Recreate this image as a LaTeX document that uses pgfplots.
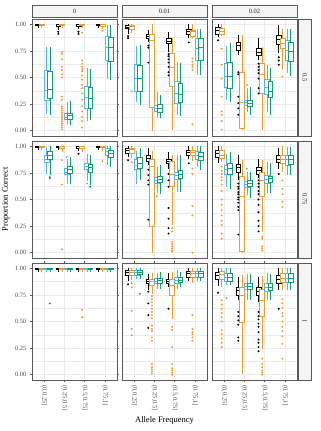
\documentclass[border=0pt]{standalone}
\usepackage{fontspec}
\setmainfont{Liberation Serif}
\usepackage{pgfplots}
\pgfplotsset{compat=1.18}
\usepgfplotslibrary{groupplots,statistics}
\definecolor{cO}{HTML}{E2A030}
\definecolor{cB}{HTML}{56B4E9}
\definecolor{cG}{HTML}{109E70}
\definecolor{gridc}{HTML}{EBEBEB}
\definecolor{frame}{HTML}{5A5A5A}
\definecolor{tl}{HTML}{4D4D4D}
\definecolor{stripc}{HTML}{F5F5F5}

\newcommand{\B}[8]{%
\if\relax\detokenize{#8}\relax
\addplot[#2,boxplot prepared={draw position=#1,lower whisker=#3,lower quartile=#4,median=#5,upper quartile=#6,upper whisker=#7}] coordinates {};
\else
\addplot[#2,boxplot prepared={draw position=#1,lower whisker=#3,lower quartile=#4,median=#5,upper quartile=#6,upper whisker=#7}] table[row sep=\\,y index=0] {v\\#8\\};
\fi}
\newcommand{\bK}[7]{\B{#1-0.3}{sK}{#2}{#3}{#4}{#5}{#6}{#7}}
\newcommand{\bO}[7]{\B{#1-0.12}{sO}{#2}{#3}{#4}{#5}{#6}{#7}}
\newcommand{\bB}[7]{\B{#1+0.12}{sB}{#2}{#3}{#4}{#5}{#6}{#7}}
\newcommand{\bG}[7]{\B{#1+0.28}{sG}{#2}{#3}{#4}{#5}{#6}{#7}}

\pgfplotsset{
 sK/.style={draw=black,fill=white,line width=0.6pt,mark=*,mark size=0.65pt,mark options={draw=none,fill=black}},
 sO/.style={draw=cO,fill=white,line width=0.6pt,mark=*,mark size=0.65pt,mark options={draw=none,fill=cO}},
 sB/.style={draw=cB,fill=white,line width=0.6pt,mark=*,mark size=0.65pt,mark options={draw=none,fill=cB}},
 sG/.style={draw=cG,fill=white,line width=0.6pt,mark=*,mark size=0.65pt,mark options={draw=none,fill=cG}},
}

\begin{document}
\begin{tikzpicture}
\begin{groupplot}[
 group style={group size=3 by 3, horizontal sep=5pt, vertical sep=5pt, group name=G,
   xticklabels at=edge bottom, yticklabels at=edge left},
 width=85pt, height=117pt, scale only axis,
 xmin=0.4, xmax=4.6, ymin=-0.05, ymax=1.05,
 xtick={1,2,3,4}, ytick={0,0.25,0.5,0.75,1},
 minor ytick={0.125,0.375,0.625,0.875},
 xticklabels={{(0,0.25]},{(0.25,0.5]},{(0.5,0.75]},{(0.75,1]}},
 xmajorgrids, ymajorgrids, yminorgrids,
 major grid style={gridc, line width=0.5pt},
 minor grid style={gridc, line width=0.3pt},
 axis line style={frame, line width=0.5pt},
 tick align=outside, major tick length=2pt,
 tick style={frame, line width=0.5pt},
 minor tick style={draw=none},
 /pgf/number format/assume math mode=true,
 yticklabel style={/pgf/number format/fixed, /pgf/number format/fixed zerofill, /pgf/number format/precision=2},
 ticklabel style={font=\fontsize{6.5}{7}\selectfont, text=tl},
 x tick label style={rotate=-90, anchor=west},
 boxplot/draw direction=y, boxplot/box extend=0.24, boxplot/whisker extend=0,
]
% ---------------- row 1 (0.5), col 1 (0)
\nextgroupplot[xtick style={draw=none}]
\bK{1}{0.97}{0.99}{1}{1}{1}{}
\bO{1}{0.97}{0.99}{1}{1}{1}{}
\bB{1}{0.16}{0.29}{0.38}{0.57}{0.79}{}
\bG{1}{0.15}{0.30}{0.39}{0.56}{0.79}{}
\bK{2}{0.95}{0.985}{1}{1}{1}{0.93\\0.91}
\bO{2}{0.97}{0.99}{1}{1}{1}{0.74\\0.72\\0.67\\0.60\\0.57\\0.53\\0.50\\0.32\\0.29\\0.23\\0.21\\0.19\\0.17\\0.15\\0.13\\0.11\\0.09\\0.07\\0.05\\0.03\\0.01}
\bB{2}{0.06}{0.11}{0.13}{0.16}{0.27}{}
\bG{2}{0.05}{0.11}{0.14}{0.16}{0.28}{}
\bK{3}{0.96}{0.985}{1}{1}{1}{0.93\\0.91}
\bO{3}{0.97}{0.99}{1}{1}{1}{0.92\\0.66\\0.63\\0.60\\0.58\\0.56\\0.52\\0.48\\0.43\\0.40\\0.35\\0.29\\0.23\\0.18\\0.13\\0.09\\0.03}
\bB{3}{0.09}{0.21}{0.31}{0.42}{0.59}{}
\bG{3}{0.10}{0.21}{0.30}{0.41}{0.58}{}
\bK{4}{0.97}{0.99}{1}{1}{1}{}
\bO{4}{0.96}{0.985}{1}{1}{1}{0.94}
\bB{4}{0.49}{0.66}{0.78}{0.89}{0.99}{}
\bG{4}{0.48}{0.65}{0.78}{0.88}{0.99}{}
% ---------------- row 1, col 2 (0.01)
\nextgroupplot[xtick style={draw=none}, ytick style={draw=none}]
\bK{1}{0.91}{0.96}{0.975}{0.99}{1}{0.89\\0.87}
\bO{1}{0.92}{0.95}{0.98}{0.99}{1}{0.37}
\bB{1}{0.27}{0.37}{0.49}{0.62}{0.80}{}
\bG{1}{0.24}{0.37}{0.49}{0.61}{0.81}{}
\bK{2}{0.83}{0.87}{0.89}{0.91}{0.95}{0.80\\0.78\\0.64}
\bO{2}{0}{0.22}{0.85}{0.91}{1}{}
\bB{2}{0.13}{0.18}{0.21}{0.24}{0.36}{}
\bG{2}{0.12}{0.17}{0.21}{0.25}{0.34}{}
\bK{3}{0.74}{0.82}{0.84}{0.87}{0.93}{0.72\\0.70\\0.67\\0.64\\0.60\\0.55\\0.52}
\bO{3}{0.01}{0.42}{0.60}{0.73}{0.87}{}
\bB{3}{0.15}{0.26}{0.35}{0.46}{0.65}{}
\bG{3}{0.14}{0.27}{0.34}{0.45}{0.64}{}
\bK{4}{0.87}{0.91}{0.93}{0.95}{1}{0.83}
\bO{4}{0.87}{0.89}{0.93}{0.94}{1}{0.68\\0.65\\0.62\\0.60\\0.57\\0.06}
\bB{4}{0.52}{0.66}{0.77}{0.87}{0.96}{}
\bG{4}{0.52}{0.66}{0.78}{0.87}{0.96}{}
% ---------------- row 1, col 3 (0.02)
\nextgroupplot[xtick style={draw=none}, ytick style={draw=none}]
\bK{1}{0.88}{0.91}{0.94}{0.97}{1}{0.85}
\bO{1}{0.89}{0.91}{0.93}{0.96}{1}{0.77\\0.62\\0.49\\0.32\\0.18\\0.15\\0.09\\0.01}
\bB{1}{0.29}{0.41}{0.51}{0.63}{0.80}{}
\bG{1}{0.27}{0.40}{0.51}{0.64}{0.82}{}
\bK{2}{0.71}{0.76}{0.80}{0.83}{0.90}{0.55\\0.53\\0.32\\0.26\\0.21\\0.15}
\bO{2}{0.01}{0.025}{0.27}{0.55}{0.90}{}
\bB{2}{0.18}{0.24}{0.27}{0.29}{0.40}{0.43}
\bG{2}{0.15}{0.23}{0.26}{0.29}{0.41}{}
\bK{3}{0.66}{0.71}{0.74}{0.77}{0.87}{0.63\\0.60\\0.57\\0.54\\0.49\\0.40\\0.35}
\bO{3}{0.01}{0.35}{0.53}{0.63}{0.79}{}
\bB{3}{0.18}{0.34}{0.41}{0.48}{0.62}{}
\bG{3}{0.15}{0.31}{0.37}{0.46}{0.59}{}
\bK{4}{0.73}{0.81}{0.86}{0.90}{0.99}{0.69\\0.66\\0.62}
\bO{4}{0.57}{0.77}{0.82}{0.87}{0.96}{0.51}
\bB{4}{0.54}{0.66}{0.76}{0.85}{0.96}{}
\bG{4}{0.51}{0.65}{0.75}{0.83}{0.96}{}
% ---------------- row 2 (0.75), col 1
\nextgroupplot[xtick style={draw=none}]
\bK{1}{0.97}{0.99}{1}{1}{1}{}
\bO{1}{0.97}{0.99}{1}{1}{1}{}
\bB{1}{0.74}{0.85}{0.88}{0.92}{0.99}{}
\bG{1}{0.73}{0.88}{0.92}{0.95}{1}{0.71\\0.70}
\bK{2}{0.97}{0.99}{1}{1}{1}{}
\bO{2}{0.95}{0.985}{1}{1}{1}{0.87\\0.64\\0.03}
\bB{2}{0.65}{0.74}{0.76}{0.79}{0.88}{0.90}
\bG{2}{0.65}{0.75}{0.78}{0.81}{0.90}{}
\bK{3}{0.96}{0.985}{1}{1}{1}{0.93}
\bO{3}{0.95}{0.985}{1}{1}{1}{}
\bB{3}{0.67}{0.78}{0.81}{0.84}{0.93}{0.65}
\bG{3}{0.64}{0.76}{0.80}{0.83}{0.92}{0.62}
\bK{4}{0.97}{0.99}{1}{1}{1}{}
\bO{4}{0.96}{0.99}{1}{1}{1}{0.86}
\bB{4}{0.82}{0.92}{0.95}{0.98}{1}{}
\bG{4}{0.81}{0.90}{0.93}{0.96}{1}{}
% ---------------- row 2, col 2
\nextgroupplot[xtick style={draw=none}, ytick style={draw=none}]
\bK{1}{0.90}{0.93}{0.96}{0.98}{1}{0.87}
\bO{1}{0.89}{0.93}{0.97}{0.98}{1}{0.85}
\bB{1}{0.65}{0.78}{0.82}{0.88}{0.96}{}
\bG{1}{0.68}{0.79}{0.84}{0.90}{0.98}{}
\bK{2}{0.82}{0.86}{0.89}{0.92}{0.98}{0.78\\0.73\\0.68\\0.64\\0.31}
\bO{2}{0}{0.25}{0.81}{0.88}{0.96}{}
\bB{2}{0.56}{0.65}{0.68}{0.71}{0.81}{0.53}
\bG{2}{0.55}{0.66}{0.69}{0.72}{0.82}{}
\bK{3}{0.79}{0.84}{0.86}{0.88}{0.95}{0.74\\0.68\\0.62\\0.42\\0.32\\0.23\\0.18}
\bO{3}{0.26}{0.62}{0.74}{0.86}{0.92}{0.23\\0.20\\0.10\\0.08\\0.06\\0.04\\0.02\\0.01}
\bB{3}{0.57}{0.69}{0.73}{0.76}{0.92}{}
\bG{3}{0.57}{0.70}{0.74}{0.77}{0.92}{}
\bK{4}{0.88}{0.92}{0.94}{0.96}{1}{0.84}
\bO{4}{0.86}{0.92}{0.94}{0.96}{1}{0.79\\0.74\\0.44\\0.35\\0}
\bB{4}{0.81}{0.88}{0.92}{0.95}{1}{}
\bG{4}{0.78}{0.87}{0.91}{0.94}{1}{}
% ---------------- row 2, col 3
\nextgroupplot[xtick style={draw=none}, ytick style={draw=none}]
\bK{1}{0.84}{0.90}{0.93}{0.96}{1}{}
\bO{1}{0.85}{0.89}{0.92}{0.96}{1}{0.81\\0.77\\0.74\\0.71\\0.68\\0.64\\0.58\\0.50\\0.45\\0.40\\0.35\\0.30\\0.26\\0.18\\0.13}
\bB{1}{0.62}{0.74}{0.78}{0.82}{0.93}{}
\bG{1}{0.60}{0.74}{0.79}{0.84}{0.95}{}
\bK{2}{0.68}{0.76}{0.80}{0.83}{0.92}{0.65\\0.62\\0.60\\0.57\\0.55\\0.52\\0.50\\0.47\\0.43\\0.40\\0.17}
\bO{2}{0}{0.01}{0.53}{0.72}{0.87}{}
\bB{2}{0.54}{0.61}{0.64}{0.67}{0.76}{0.79}
\bG{2}{0.51}{0.62}{0.65}{0.68}{0.76}{}
\bK{3}{0.70}{0.74}{0.77}{0.80}{0.88}{0.68\\0.65\\0.62\\0.58\\0.55\\0.50\\0.45\\0.38\\0.30\\0.25\\0.20}
\bO{3}{0.19}{0.53}{0.68}{0.76}{0.87}{0.15\\0.13\\0.06\\0.04\\0.02}
\bB{3}{0.56}{0.65}{0.69}{0.73}{0.85}{}
\bG{3}{0.56}{0.66}{0.70}{0.72}{0.84}{}
\bK{4}{0.79}{0.85}{0.88}{0.92}{0.98}{0.74}
\bO{4}{0.76}{0.84}{0.88}{0.92}{1}{0.68\\0.60\\0.55\\0.48\\0.43}
\bB{4}{0.73}{0.82}{0.88}{0.92}{0.99}{}
\bG{4}{0.73}{0.83}{0.88}{0.92}{0.99}{}
% ---------------- row 3 (1), col 1
\nextgroupplot[]
\bK{1}{0.97}{0.99}{1}{1}{1}{}
\bO{1}{0.97}{0.99}{1}{1}{1}{}
\bB{1}{0.97}{0.99}{1}{1}{1}{}
\bG{1}{0.97}{0.99}{1}{1}{1}{0.67}
\bK{2}{0.97}{0.99}{1}{1}{1}{}
\bO{2}{0.97}{0.99}{1}{1}{1}{}
\bB{2}{0.97}{0.99}{1}{1}{1}{}
\bG{2}{0.97}{0.99}{1}{1}{1}{}
\bK{3}{0.97}{0.99}{1}{1}{1}{}
\bO{3}{0.97}{0.99}{1}{1}{1}{0.61\\0.54}
\bB{3}{0.97}{0.99}{1}{1}{1}{}
\bG{3}{0.97}{0.99}{1}{1}{1}{}
\bK{4}{0.97}{0.99}{1}{1}{1}{}
\bO{4}{0.97}{0.99}{1}{1}{1}{}
\bB{4}{0.97}{0.99}{1}{1}{1}{}
\bG{4}{0.97}{0.99}{1}{1}{1}{}
% ---------------- row 3, col 2
\nextgroupplot[ytick style={draw=none}]
\bK{1}{0.88}{0.93}{0.96}{0.98}{1}{0.85}
\bO{1}{0.89}{0.93}{0.96}{0.98}{1}{0.86\\0.82\\0.60\\0.43\\0.37}
\bB{1}{0.90}{0.93}{0.96}{0.98}{1}{}
\bG{1}{0.90}{0.94}{0.96}{0.98}{1}{0.76}
\bK{2}{0.80}{0.86}{0.88}{0.90}{0.95}{0.78\\0.67\\0.56\\0.44}
\bO{2}{0.76}{0.84}{0.88}{0.90}{0.96}{0.74\\0.71\\0.68\\0.65\\0.62\\0.59\\0.56\\0.53\\0.46\\0.43\\0.41\\0.35\\0.32\\0.10\\0.07\\0.05\\0.03\\0.01}
\bB{2}{0.81}{0.86}{0.88}{0.91}{0.96}{}
\bG{2}{0.81}{0.86}{0.89}{0.91}{0.97}{}
\bK{3}{0.82}{0.86}{0.88}{0.90}{0.96}{0.62}
\bO{3}{0.52}{0.75}{0.84}{0.90}{0.97}{0.45\\0.42\\0.26\\0.10\\0.06\\0.04\\0.02\\0}
\bB{3}{0.81}{0.86}{0.89}{0.92}{0.98}{}
\bG{3}{0.82}{0.87}{0.89}{0.92}{0.97}{}
\bK{4}{0.88}{0.92}{0.95}{0.97}{1}{}
\bO{4}{0.86}{0.92}{0.95}{0.97}{1}{0.56\\0.43\\0.40\\0.38\\0.35\\0.32}
\bB{4}{0.88}{0.92}{0.95}{0.97}{1}{}
\bG{4}{0.88}{0.92}{0.95}{0.97}{1}{}
% ---------------- row 3, col 3
\nextgroupplot[ytick style={draw=none}]
\bK{1}{0.83}{0.90}{0.93}{0.96}{1}{0.77}
\bO{1}{0.82}{0.90}{0.94}{0.97}{1}{0.70\\0.66\\0.62\\0.58\\0.54\\0.50\\0.42\\0.38\\0.34\\0.30\\0.26}
\bB{1}{0.84}{0.88}{0.92}{0.95}{1}{0.72}
\bG{1}{0.84}{0.88}{0.92}{0.95}{1}{}
\bK{2}{0.70}{0.75}{0.79}{0.82}{0.92}{0.59\\0.55\\0.51\\0.47\\0.35\\0.32}
\bO{2}{0.01}{0.49}{0.75}{0.82}{0.94}{}
\bB{2}{0.70}{0.80}{0.83}{0.86}{0.95}{}
\bG{2}{0.70}{0.80}{0.83}{0.86}{0.95}{}
\bK{3}{0.68}{0.75}{0.78}{0.82}{0.92}{0.59\\0.55\\0.52\\0.48\\0.45\\0.40\\0.33\\0.30\\0.26\\0.22}
\bO{3}{0.24}{0.55}{0.70}{0.80}{0.93}{0.15\\0.10\\0.07\\0.04\\0.02\\0}
\bB{3}{0.70}{0.78}{0.82}{0.86}{0.96}{}
\bG{3}{0.70}{0.79}{0.82}{0.86}{0.95}{}
\bK{4}{0.80}{0.86}{0.90}{0.93}{1}{0.62}
\bO{4}{0.80}{0.87}{0.91}{0.95}{1}{0.71\\0.67\\0.63\\0.58\\0.55\\0.50\\0.45\\0.41\\0.36\\0.29\\0.15}
\bB{4}{0.80}{0.87}{0.91}{0.95}{1}{}
\bG{4}{0.80}{0.87}{0.91}{0.95}{1}{}
\end{groupplot}
% strips
\foreach \c/\t in {1/0,2/0.01,3/0.02}{
 \draw[fill=stripc,draw=frame,line width=0.5pt] ([yshift=1.5pt]G c\c r1.north west) rectangle ([yshift=14pt]G c\c r1.north east);
 \node[font=\fontsize{6.5}{7}\selectfont, text=black!85, inner sep=0pt] at ([yshift=7.75pt]G c\c r1.north) {\t};
}
\foreach \r/\t in {1/0.5,2/0.75,3/1}{
 \draw[fill=stripc,draw=frame,line width=0.5pt] ([xshift=1.5pt]G c3r\r.north east) rectangle ([xshift=14pt]G c3r\r.south east);
 \node[rotate=-90, font=\fontsize{6.5}{7}\selectfont, text=black!85, inner sep=0pt] at ([xshift=7.75pt]G c3r\r.east) {\t};
}
\node[rotate=90, font=\fontsize{8.5}{10}\selectfont, inner sep=0pt] at ([xshift=-26pt]G c1r2.west) {Proportion Correct};
\node[font=\fontsize{8.5}{10}\selectfont, inner sep=0pt] at ([yshift=-40pt]G c2r3.south) {Allele Frequency};
\pgfresetboundingbox
\path ([xshift=-32pt,yshift=19pt]G c1r1.north west) rectangle ([xshift=289pt,yshift=-412pt]G c1r1.north west);
\end{tikzpicture}
\end{document}
